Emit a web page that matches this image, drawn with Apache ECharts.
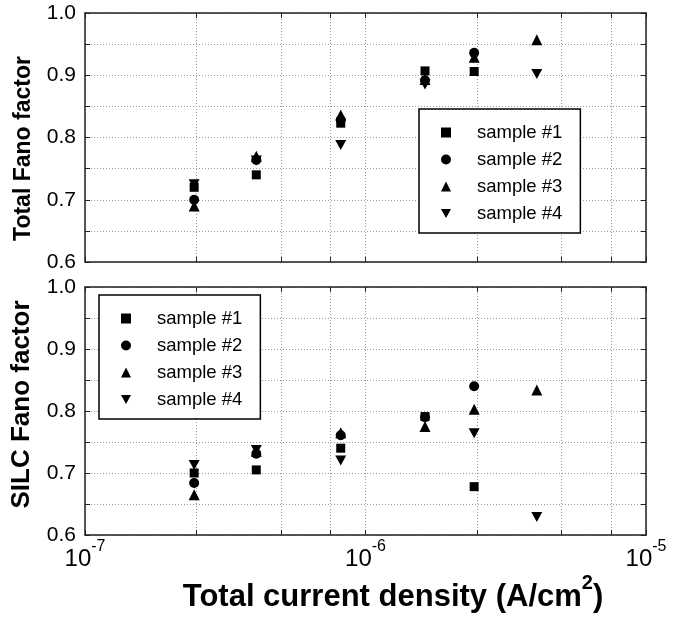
<!doctype html>
<html lang="en">
<head>
    <meta charset="UTF-8">
    <script src="https://cdn.jsdelivr.net/npm/echarts@6/dist/echarts.min.js"></script>
    <title>Fano factor</title>
</head>
<body style="margin:0">
<div id="chart" style="width:674px;height:621px;"></div>
<script>
    // 数据
    var currentDensity = [2.45e-7, 4.08e-7, 8.16e-7, 1.63e-6, 2.44e-6, 4.08e-6];
    var sampleNames = ['sample #1', 'sample #2', 'sample #3', 'sample #4'];

    var totalS1 = [0.720, 0.740, 0.823, 0.907, 0.906, null];
    var totalS2 = [0.700, 0.764, 0.828, 0.892, 0.936, null];
    var totalS3 = [0.690, 0.770, 0.836, 0.893, 0.929, 0.957];
    var totalS4 = [0.725, 0.763, 0.788, 0.885, null, 0.902];

    var silcS1 = [0.700, 0.705, 0.740, 0.791, 0.678, null];
    var silcS2 = [0.684, 0.731, 0.761, 0.790, 0.840, null];
    var silcS3 = [0.665, 0.735, 0.765, 0.775, 0.803, 0.834];
    var silcS4 = [0.713, 0.737, 0.720, null, 0.764, 0.629];

    var xTicks = [1e-7, 2.5e-7, 5e-7, 7.5e-7, 1e-6, 2.5e-6, 5e-6, 7.5e-6, 1e-5];
    var xLabelTicks = [1e-7, 1e-6, 1e-5];

    var font = 'Liberation Sans';
    var frameColor = '#222';
    var gridLine = {show: true, lineStyle: {color: '#999', type: [1, 2], width: 1}};
    var downTriangle = 'path://M0,0L10,0L5,9Z';

    var chart = echarts.init(document.getElementById('chart'));

    function xAxisPair(g) {
        var main = {
            type: 'log', logBase: 10, gridIndex: g, min: 1e-7, max: 1e-5,
            axisLine: {show: true, lineStyle: {color: frameColor, width: 1.5}},
            axisTick: {inside: true, length: 5, customValues: xTicks, lineStyle: {color: frameColor}},
            splitLine: gridLine,
            axisLabel: {
                show: g === 1, customValues: xLabelTicks, margin: 4,
                formatter: function (v) {
                    return '{b|10}{s|' + Math.round(Math.log10(v)) + '}';
                },
                rich: {
                    b: {fontSize: 24, fontFamily: font, color: '#000', lineHeight: 32, verticalAlign: 'bottom'},
                    s: {fontSize: 16, fontFamily: font, color: '#000', verticalAlign: 'top', lineHeight: 16}
                }
            }
        };
        if (g === 1) {
            main.name = '{t|Total current density (A/cm}{sup|2}{t|)}';
            main.nameLocation = 'middle';
            main.nameGap = 38;
            main.nameTextStyle = {
                padding: [0, 0, 0, 55],
                rich: {
                    t: {fontSize: 31, fontWeight: 'bold', fontFamily: font, color: '#000', lineHeight: 40, verticalAlign: 'bottom'},
                    sup: {fontSize: 20, fontWeight: 'bold', fontFamily: font, color: '#000', verticalAlign: 'top', lineHeight: 20}
                }
            };
        }
        var mirror = {
            type: 'log', logBase: 10, gridIndex: g, min: 1e-7, max: 1e-5, position: 'top',
            axisLine: {show: true, lineStyle: {color: frameColor, width: 1.5}},
            axisTick: {inside: true, length: 5, customValues: xTicks, lineStyle: {color: frameColor}},
            axisLabel: {show: false},
            splitLine: {show: false}
        };
        return [main, mirror];
    }

    function yAxisPair(g, title, size, pad) {
        var main = {
            type: 'value', gridIndex: g, min: 0.6, max: 1.0, interval: 0.1,
            axisLine: {show: true, lineStyle: {color: frameColor, width: 1.5}},
            axisTick: {inside: true, length: 5, lineStyle: {color: frameColor}},
            minorTick: {show: true, splitNumber: 2, length: 5, lineStyle: {color: frameColor}},
            splitLine: gridLine,
            minorSplitLine: gridLine,
            axisLabel: {
                margin: 9, fontSize: 21, fontFamily: font, color: '#000',
                formatter: function (v) { return v.toFixed(1); }
            },
            name: title,
            nameLocation: 'middle',
            nameGap: 50,
            nameTextStyle: {fontSize: size, fontWeight: 'bold', fontFamily: font, color: '#000', padding: pad}
        };
        var mirror = {
            type: 'value', gridIndex: g, min: 0.6, max: 1.0, interval: 0.1, position: 'right',
            axisLine: {show: true, lineStyle: {color: frameColor, width: 1.5}},
            axisTick: {inside: true, length: 5, lineStyle: {color: frameColor}},
            minorTick: {show: true, splitNumber: 2, length: 5, lineStyle: {color: frameColor}},
            axisLabel: {show: false},
            splitLine: {show: false}
        };
        return [main, mirror];
    }

    function makeSeries(idx, values, g) {
        var symbols = ['rect', 'circle', 'triangle', downTriangle];
        var sizes = [9, 10, 11, [11, 10]];
        return {
            name: sampleNames[idx],
            type: 'scatter',
            xAxisIndex: g * 2,
            yAxisIndex: g * 2,
            symbol: symbols[idx],
            symbolSize: sizes[idx],
            z: 10 - idx,
            itemStyle: {color: '#000', opacity: 1},
            data: currentDensity.map(function (x, i) { return [x, values[i]]; })
                .filter(function (p) { return p[1] !== null; })
        };
    }

    function makeLegend(left, top) {
        return {
            orient: 'vertical', left: left, top: top,
            data: [
                {name: sampleNames[0], icon: 'rect'},
                {name: sampleNames[1], icon: 'circle'},
                {name: sampleNames[2], icon: 'triangle'},
                {name: sampleNames[3], icon: downTriangle}
            ],
            itemWidth: 10, itemHeight: 10, itemGap: 8,
            itemStyle: {opacity: 1},
            borderColor: '#000', borderWidth: 1.5, backgroundColor: '#fff',
            padding: [14, 18, 10, 22],
            textStyle: {fontSize: 18.5, fontFamily: font, color: '#000', lineHeight: 18, padding: [0, 0, 0, 21]}
        };
    }

    var option = {
        backgroundColor: '#fff',
        animation: false,
        grid: [
            {left: 85, right: 28, top: 13, height: 249},
            {left: 85, right: 28, top: 287, height: 248}
        ],
        xAxis: xAxisPair(0).concat(xAxisPair(1)),
        yAxis: yAxisPair(0, 'Total Fano factor', 23, [0, 22, 0, 0]).concat(yAxisPair(1, 'SILC Fano factor', 26, [0, 0, 0, 13])),
        legend: [makeLegend(419, 109), makeLegend(99, 295)],
        series: [
            makeSeries(0, totalS1, 0), makeSeries(1, totalS2, 0), makeSeries(2, totalS3, 0), makeSeries(3, totalS4, 0),
            makeSeries(0, silcS1, 1), makeSeries(1, silcS2, 1), makeSeries(2, silcS3, 1), makeSeries(3, silcS4, 1)
        ]
    };

    chart.setOption(option);
</script>
</body>
</html>
